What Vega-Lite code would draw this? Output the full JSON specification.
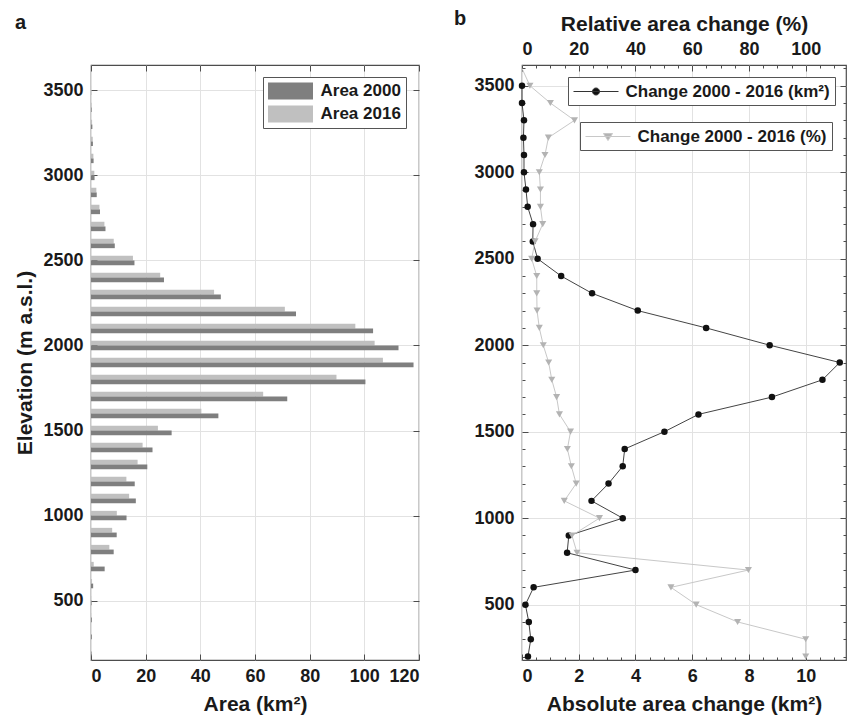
{
  "$schema": "https://vega.github.io/schema/vega-lite/v6.json",
  "padding": {"left": 14, "top": 8, "right": 4, "bottom": 4},
  "background": "white",
  "config": {
    "font": "Liberation Sans",
    "view": {"stroke": "#4d4d4d", "strokeWidth": 1.2},
    "axis": {
      "labelFont": "Liberation Sans", "labelFontSize": 18, "labelFontWeight": "bold", "labelColor": "#1a1a1a",
      "titleFont": "Liberation Sans", "titleFontSize": 21, "titleFontWeight": "bold", "titleColor": "#1a1a1a",
      "domain": false, "tickColor": "#4d4d4d", "tickWidth": 1, "gridColor": "#e2e2e2", "gridWidth": 1, "format": "d"
    },
    "legend": {"labelFont": "Liberation Sans", "labelFontSize": 17, "labelFontWeight": "bold", "labelColor": "#1a1a1a", "labelLimit": 400},
    "title": {"font": "Liberation Sans", "fontSize": 20, "fontWeight": "bold", "color": "#1a1a1a"}
  },
  "datasets": {
    "bars": [
      {"elev": 3500, "series": "Area 2000", "area": 0.06}, {"elev": 3500, "series": "Area 2016", "area": 0.04},
      {"elev": 3400, "series": "Area 2000", "area": 0.25}, {"elev": 3400, "series": "Area 2016", "area": 0.22},
      {"elev": 3300, "series": "Area 2000", "area": 0.5}, {"elev": 3300, "series": "Area 2016", "area": 0.4},
      {"elev": 3200, "series": "Area 2000", "area": 0.7}, {"elev": 3200, "series": "Area 2016", "area": 0.64},
      {"elev": 3100, "series": "Area 2000", "area": 0.95}, {"elev": 3100, "series": "Area 2016", "area": 0.87},
      {"elev": 3000, "series": "Area 2000", "area": 1.3}, {"elev": 3000, "series": "Area 2016", "area": 1.22},
      {"elev": 2900, "series": "Area 2000", "area": 2.1}, {"elev": 2900, "series": "Area 2016", "area": 1.96},
      {"elev": 2800, "series": "Area 2000", "area": 3.3}, {"elev": 2800, "series": "Area 2016", "area": 3.09},
      {"elev": 2700, "series": "Area 2000", "area": 5.3}, {"elev": 2700, "series": "Area 2016", "area": 4.91},
      {"elev": 2600, "series": "Area 2000", "area": 8.7}, {"elev": 2600, "series": "Area 2016", "area": 8.32},
      {"elev": 2500, "series": "Area 2000", "area": 15.9}, {"elev": 2500, "series": "Area 2016", "area": 15.35},
      {"elev": 2400, "series": "Area 2000", "area": 26.7}, {"elev": 2400, "series": "Area 2016", "area": 25.32},
      {"elev": 2300, "series": "Area 2000", "area": 47.5}, {"elev": 2300, "series": "Area 2016", "area": 45.03},
      {"elev": 2200, "series": "Area 2000", "area": 75.0}, {"elev": 2200, "series": "Area 2016", "area": 70.92},
      {"elev": 2100, "series": "Area 2000", "area": 103.2}, {"elev": 2100, "series": "Area 2016", "area": 96.71},
      {"elev": 2000, "series": "Area 2000", "area": 112.5}, {"elev": 2000, "series": "Area 2016", "area": 103.77},
      {"elev": 1900, "series": "Area 2000", "area": 118.0}, {"elev": 1900, "series": "Area 2016", "area": 106.8},
      {"elev": 1800, "series": "Area 2000", "area": 100.4}, {"elev": 1800, "series": "Area 2016", "area": 89.81},
      {"elev": 1700, "series": "Area 2000", "area": 71.8}, {"elev": 1700, "series": "Area 2016", "area": 62.99},
      {"elev": 1600, "series": "Area 2000", "area": 46.6}, {"elev": 1600, "series": "Area 2016", "area": 40.38},
      {"elev": 1500, "series": "Area 2000", "area": 29.5}, {"elev": 1500, "series": "Area 2016", "area": 24.48},
      {"elev": 1400, "series": "Area 2000", "area": 22.5}, {"elev": 1400, "series": "Area 2016", "area": 18.88},
      {"elev": 1300, "series": "Area 2000", "area": 20.6}, {"elev": 1300, "series": "Area 2016", "area": 17.05},
      {"elev": 1200, "series": "Area 2000", "area": 16.0}, {"elev": 1200, "series": "Area 2016", "area": 12.95},
      {"elev": 1100, "series": "Area 2000", "area": 16.4}, {"elev": 1100, "series": "Area 2016", "area": 13.95},
      {"elev": 1000, "series": "Area 2000", "area": 13.0}, {"elev": 1000, "series": "Area 2016", "area": 9.45},
      {"elev": 900, "series": "Area 2000", "area": 9.4}, {"elev": 900, "series": "Area 2016", "area": 7.75},
      {"elev": 800, "series": "Area 2000", "area": 8.3}, {"elev": 800, "series": "Area 2016", "area": 6.71},
      {"elev": 700, "series": "Area 2000", "area": 5.0}, {"elev": 700, "series": "Area 2016", "area": 1.0},
      {"elev": 600, "series": "Area 2000", "area": 0.79}, {"elev": 600, "series": "Area 2016", "area": 0.38},
      {"elev": 500, "series": "Area 2000", "area": 0.2}, {"elev": 500, "series": "Area 2016", "area": 0.08},
      {"elev": 400, "series": "Area 2000", "area": 0.31}, {"elev": 400, "series": "Area 2016", "area": 0.07},
      {"elev": 300, "series": "Area 2000", "area": 0.31}, {"elev": 300, "series": "Area 2016", "area": 0.0},
      {"elev": 200, "series": "Area 2000", "area": 0.21}, {"elev": 200, "series": "Area 2016", "area": 0.0}
    ],
    "change": [
      {"elev": 3600, "abs": null, "rel": 0},
      {"elev": 3500, "abs": 0.0, "rel": 2.8},
      {"elev": 3400, "abs": 0.0, "rel": 10.0},
      {"elev": 3300, "abs": 0.07, "rel": 18.5},
      {"elev": 3200, "abs": 0.05, "rel": 9.3},
      {"elev": 3100, "abs": 0.07, "rel": 8.1},
      {"elev": 3000, "abs": 0.07, "rel": 6.1},
      {"elev": 2900, "abs": 0.14, "rel": 6.5},
      {"elev": 2800, "abs": 0.2, "rel": 6.5},
      {"elev": 2700, "abs": 0.39, "rel": 7.3},
      {"elev": 2600, "abs": 0.38, "rel": 4.6},
      {"elev": 2500, "abs": 0.55, "rel": 3.4},
      {"elev": 2400, "abs": 1.38, "rel": 5.2},
      {"elev": 2300, "abs": 2.47, "rel": 5.2},
      {"elev": 2200, "abs": 4.08, "rel": 5.3},
      {"elev": 2100, "abs": 6.49, "rel": 6.1},
      {"elev": 2000, "abs": 8.73, "rel": 7.5},
      {"elev": 1900, "abs": 11.2, "rel": 9.4},
      {"elev": 1800, "abs": 10.59, "rel": 10.5},
      {"elev": 1700, "abs": 8.81, "rel": 12.2},
      {"elev": 1600, "abs": 6.22, "rel": 13.2},
      {"elev": 1500, "abs": 5.02, "rel": 17.1},
      {"elev": 1400, "abs": 3.62, "rel": 16.0},
      {"elev": 1300, "abs": 3.55, "rel": 17.4},
      {"elev": 1200, "abs": 3.05, "rel": 19.1},
      {"elev": 1100, "abs": 2.45, "rel": 14.9},
      {"elev": 1000, "abs": 3.55, "rel": 27.3},
      {"elev": 900, "abs": 1.65, "rel": 17.6},
      {"elev": 800, "abs": 1.59, "rel": 19.4},
      {"elev": 700, "abs": 4.0, "rel": 79.8},
      {"elev": 600, "abs": 0.41, "rel": 52.5},
      {"elev": 500, "abs": 0.12, "rel": 61.4},
      {"elev": 400, "abs": 0.24, "rel": 76.0},
      {"elev": 300, "abs": 0.31, "rel": 100.0},
      {"elev": 200, "abs": 0.21, "rel": 100.0}
    ]
  },
  "spacing": 32,
  "resolve": {"scale": {"color": "independent"}, "legend": {"color": "independent"}},
  "hconcat": [
    {
      "width": 328,
      "height": 595,
      "title": {"text": "a", "anchor": "start", "frame": "bounds", "offset": 32},
      "data": {"name": "bars"},
      "layer": [
        {
          "transform": [{"filter": "datum.series === 'Area 2016'"}],
          "mark": {"type": "bar", "orient": "horizontal", "height": 4.7, "yOffset": -2.35},
          "encoding": {
            "x": {"field": "area", "type": "quantitative", "stack": null, "scale": {"domain": [0, 120], "nice": false},
                  "axis": {"orient": "bottom", "title": "Area (km²)", "values": [0, 20, 40, 60, 80, 100, 120], "tickSize": -6, "labelPadding": 13, "titlePadding": 8}},
            "y": {"field": "elev", "type": "quantitative", "scale": {"domain": [180, 3620], "nice": false, "zero": false},
                  "axis": {"orient": "left", "title": "Elevation (m a.s.l.)", "values": [500, 1000, 1500, 2000, 2500, 3000, 3500], "tickSize": -6, "labelPadding": 14, "titlePadding": 7}},
            "color": {"field": "series", "type": "nominal", "scale": {"domain": ["Area 2000", "Area 2016"], "range": ["#7f7f7f", "#c0c0c0"]},
                      "legend": {"orient": "none", "legendX": 172, "legendY": 12, "title": null, "symbolType": "M-2.5,-0.95H2.5V0.95H-2.5Z", "symbolSize": 324, "symbolOffset": 13.5, "labelOffset": 21, "strokeColor": "#555555", "fillColor": "white", "padding": 5, "rowPadding": 5, "symbolStrokeWidth": 0}}
          }
        },
        {
          "transform": [{"filter": "datum.series === 'Area 2000'"}],
          "mark": {"type": "bar", "orient": "horizontal", "height": 4.7, "yOffset": 2.35},
          "encoding": {
            "x": {"field": "area", "type": "quantitative", "stack": null, "scale": {"domain": [0, 120], "nice": false},
                  "axis": {"orient": "top", "title": null, "labels": false, "grid": false, "values": [0, 20, 40, 60, 80, 100, 120], "tickSize": -6}},
            "y": {"field": "elev", "type": "quantitative", "scale": {"domain": [180, 3620], "nice": false, "zero": false},
                  "axis": {"orient": "right", "title": null, "labels": false, "grid": false, "values": [500, 1000, 1500, 2000, 2500, 3000, 3500], "tickSize": -6}},
            "color": {"field": "series", "type": "nominal"}
          }
        }
      ],
      "resolve": {"axis": {"x": "independent", "y": "independent"}}
    },
    {
      "width": 324,
      "height": 595,
      "title": {"text": "b", "anchor": "start", "frame": "bounds", "dx": -20, "offset": -16},
      "data": {"name": "change"},
      "layer": [
        {
          "layer": [
            {
              "mark": {"type": "line", "stroke": "#444444", "strokeWidth": 1},
              "encoding": {
                "x": {"field": "abs", "type": "quantitative", "scale": {"domain": [0, 11.42], "nice": false},
                      "axis": {"orient": "bottom", "title": "Absolute area change (km²)", "values": [0, 2, 4, 6, 8, 10], "tickSize": -6, "labelPadding": 13, "titlePadding": 8}},
                "y": {"field": "elev", "type": "quantitative", "scale": {"domain": [180, 3620], "nice": false, "zero": false},
                      "axis": {"orient": "left", "title": null, "values": [500, 1000, 1500, 2000, 2500, 3000, 3500], "tickSize": -6, "labelPadding": 14}},
                "order": {"field": "elev", "type": "quantitative"}
              }
            },
            {
              "transform": [{"filter": "datum.elev < 3600"}],
              "mark": {"type": "point", "shape": "circle", "filled": true, "size": 42, "opacity": 1},
              "encoding": {
                "x": {"field": "abs", "type": "quantitative", "scale": {"domain": [0, 11.42], "nice": false},
                      "axis": {"orient": "bottom", "title": null, "labels": false, "grid": false, "values": [0.5, 1, 1.5, 2.5, 3, 3.5, 4.5, 5, 5.5, 6.5, 7, 7.5, 8.5, 9, 9.5, 10.5, 11], "tickSize": -3}},
                "y": {"field": "elev", "type": "quantitative", "scale": {"domain": [180, 3620], "nice": false, "zero": false},
                      "axis": {"orient": "left", "title": null, "labels": false, "grid": false, "values": [200, 300, 400, 600, 700, 800, 900, 1100, 1200, 1300, 1400, 1600, 1700, 1800, 1900, 2100, 2200, 2300, 2400, 2600, 2700, 2800, 2900, 3100, 3200, 3300, 3400, 3600], "tickSize": -3}},
                "color": {"datum": "Change 2000 - 2016 (km²)", "type": "nominal", "scale": {"range": ["#111111"]},
                          "legend": {"orient": "none", "legendX": 46, "legendY": 12, "title": null, "symbolType": "M-2.5,0H2.5M-0.39,0A0.39,0.39 0 1,0 0.39,0A0.39,0.39 0 1,0 -0.39,0", "symbolSize": 324, "symbolOffset": 13.5, "labelOffset": 20, "symbolStrokeColor": "#333333", "symbolStrokeWidth": 1, "symbolFillColor": "#111111", "strokeColor": "#555555", "fillColor": "white", "padding": 5}}
              }
            }
          ],
          "resolve": {"axis": {"x": "independent", "y": "independent"}}
        },
        {
          "layer": [
            {
              "mark": {"type": "line", "stroke": "#c8c8c8", "strokeWidth": 1},
              "encoding": {
                "x": {"field": "rel", "type": "quantitative", "scale": {"domain": [0, 114.2], "nice": false},
                      "axis": {"orient": "top", "title": "Relative area change (%)", "grid": false, "values": [0, 20, 40, 60, 80, 100], "tickSize": -6, "labelPadding": 13, "titlePadding": 6}},
                "y": {"field": "elev", "type": "quantitative", "scale": {"domain": [180, 3620], "nice": false, "zero": false},
                      "axis": {"orient": "right", "title": null, "labels": false, "grid": false, "values": [500, 1000, 1500, 2000, 2500, 3000, 3500], "tickSize": -6}},
                "order": {"field": "elev", "type": "quantitative"}
              }
            },
            {
              "transform": [{"filter": "datum.elev < 3600"}],
              "mark": {"type": "point", "shape": "triangle-down", "filled": true, "size": 50, "opacity": 1},
              "encoding": {
                "x": {"field": "rel", "type": "quantitative", "scale": {"domain": [0, 114.2], "nice": false},
                      "axis": {"orient": "top", "title": null, "labels": false, "grid": false, "values": [5, 10, 15, 25, 30, 35, 45, 50, 55, 65, 70, 75, 85, 90, 95, 105, 110], "tickSize": -3}},
                "y": {"field": "elev", "type": "quantitative", "scale": {"domain": [180, 3620], "nice": false, "zero": false},
                      "axis": {"orient": "right", "title": null, "labels": false, "grid": false, "values": [200, 300, 400, 600, 700, 800, 900, 1100, 1200, 1300, 1400, 1600, 1700, 1800, 1900, 2100, 2200, 2300, 2400, 2600, 2700, 2800, 2900, 3100, 3200, 3300, 3400, 3600], "tickSize": -3}},
                "color": {"datum": "Change 2000 - 2016 (%)", "type": "nominal", "scale": {"range": ["#b3b3b3"]},
                          "legend": {"orient": "none", "legendX": 58, "legendY": 57, "title": null, "symbolType": "M-2.5,0H2.5M-0.5,-0.33H0.5L0,0.45Z", "symbolSize": 324, "symbolOffset": 13.5, "labelOffset": 20, "symbolStrokeColor": "#c8c8c8", "symbolStrokeWidth": 1, "symbolFillColor": "#b3b3b3", "strokeColor": "#555555", "fillColor": "white", "padding": 5}}
              }
            }
          ],
          "resolve": {"axis": {"x": "independent", "y": "independent"}}
        }
      ],
      "resolve": {"scale": {"x": "independent", "color": "independent"}, "axis": {"x": "independent", "y": "independent"}}
    }
  ]
}
